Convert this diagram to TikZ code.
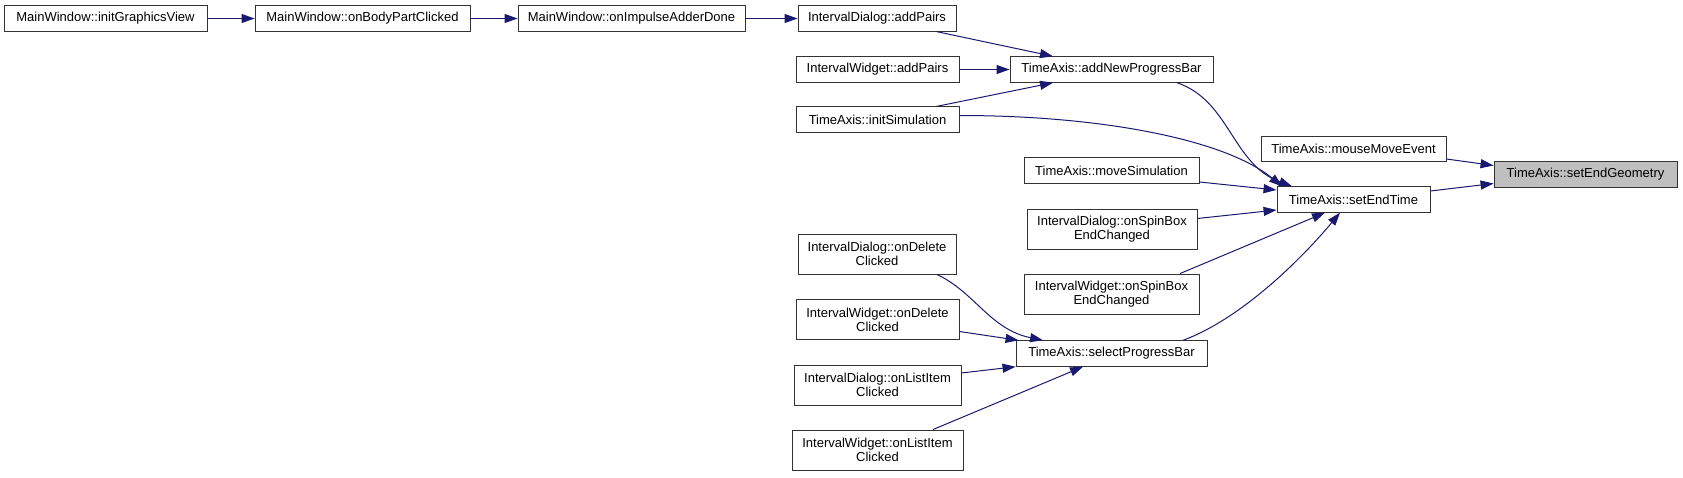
\documentclass[tikz,border=0pt]{standalone}
\usepackage{fontspec}
\setmainfont{Liberation Sans}
\usepackage{tikz}
\usetikzlibrary{arrows.meta,calc}
\definecolor{edgeblue}{HTML}{191970}

\begin{document}
\begin{tikzpicture}[x=1pt,y=-1pt,
    fn/.style={draw=black!80,line width=0.9pt,fill=white,inner sep=0pt,align=center,
        font=\fontsize{13}{14}\selectfont,minimum height=25.5pt},
    fntwo/.style={fn,minimum height=40pt},
    current/.style={fn,fill=black!25},
    call/.style={draw=edgeblue,line width=1pt,-{Triangle[length=13pt,width=9pt]}}]
    \useasboundingbox (0,0) rectangle (1683,477);

    % Main window chain
    \node[fn,minimum width=203pt] (gv) at (105.5,18.5) {MainWindow::initGraphicsView};
    \node[fn,minimum width=215pt] (bp) at (362.5,18.5) {MainWindow::onBodyPartClicked};
    \node[fn,minimum width=227pt] (ia) at (631.5,18.5) {MainWindow::onImpulseAdderDone};

    % Callers of addNewProgressBar
    \node[fn,minimum width=158pt] (idap) at (877,18.5) {IntervalDialog::addPairs};
    \node[fn,minimum width=163pt] (iwap) at (877.5,69.5) {IntervalWidget::addPairs};
    \node[fn,minimum width=163pt] (isim) at (877.5,119.5) {TimeAxis::initSimulation};
    \node[fn,minimum width=203pt] (anpb) at (1111.5,69.5) {TimeAxis::addNewProgressBar};

    % Callers of setEndTime
    \node[fn,minimum width=175pt] (msim) at (1111.5,170.5) {TimeAxis::moveSimulation};
    \node[fntwo,minimum width=170pt] (idsb) at (1112,229) {IntervalDialog::onSpinBox\\EndChanged};
    \node[fntwo,minimum width=175pt] (iwsb) at (1111.5,294) {IntervalWidget::onSpinBox\\EndChanged};
    \node[fn,minimum width=191pt] (spb) at (1111.5,353.5) {TimeAxis::selectProgressBar};

    % Callers of selectProgressBar
    \node[fntwo,minimum width=158pt] (iddc) at (877,254) {IntervalDialog::onDelete\\Clicked};
    \node[fntwo,minimum width=163pt] (iwdc) at (877.5,319.5) {IntervalWidget::onDelete\\Clicked};
    \node[fntwo,minimum width=167pt] (idli) at (877.5,385) {IntervalDialog::onListItem\\Clicked};
    \node[fntwo,minimum width=171pt] (iwli) at (877.5,450) {IntervalWidget::onListItem\\Clicked};

    % Right side
    \node[fn,minimum width=185pt] (mme) at (1353.5,149) {TimeAxis::mouseMoveEvent};
    \node[fn,minimum width=153pt] (set) at (1353.5,199.5) {TimeAxis::setEndTime};
    \node[current,minimum width=183pt] (seg) at (1585.5,174.5) {TimeAxis::setEndGeometry};

    % Calls
    \draw[call] (gv) -- (bp);
    \draw[call] (bp) -- (ia);
    \draw[call] (ia) -- (idap);
    \draw[call] ($(idap.south)+(60,0)$) -- ($(anpb.north)+(-58.5,0)$);
    \draw[call] (iwap) -- (anpb);
    \draw[call] ($(isim.north)+(59.5,0)$) -- ($(anpb.south)+(-58.5,0)$);
    \draw[call] ($(anpb.south)+(65.5,0)$) .. controls +(53,18) and +(-60,-22) .. ($(set.north)+(-61.5,0)$);
    \draw[call] ($(isim.east)+(0,-4)$) .. controls +(141,0) and +(-57,-47) .. ($(set.north)+(-71.5,0)$);
    \draw[call] ($(msim.east)+(0,11.5)$) -- ($(set.west)+(0,-9.5)$);
    \draw[call] ($(idsb.east)+(0,-10.5)$) -- ($(set.west)+(0,10.5)$);
    \draw[call] ($(iwsb.north)+(68.5,0)$) -- ($(set.south)+(-28.5,0)$);
    \draw[call] ($(spb.north)+(71.5,0)$) .. controls +(57,-21) and +(-40,48) .. ($(set.south)+(-13.5,0)$);
    \draw[call] ($(mme.east)+(0,10)$) -- ($(seg.west)+(0,-9)$);
    \draw[call] ($(set.east)+(0,-8.5)$) -- ($(seg.west)+(0,9)$);
    \draw[call] ($(iddc.south)+(60,0)$) .. controls +(38,18) and +(-53,-11) .. ($(spb.north)+(-68.5,0)$);
    \draw[call] ($(iwdc.east)+(0,12)$) -- ($(spb.north west)+(3,0)$);
    \draw[call] ($(idli.east)+(0,-12)$) -- (spb.south west);
    \draw[call] ($(iwli.north)+(55.5,0)$) -- ($(spb.south)+(-28.5,0)$);
\end{tikzpicture}
\end{document}
